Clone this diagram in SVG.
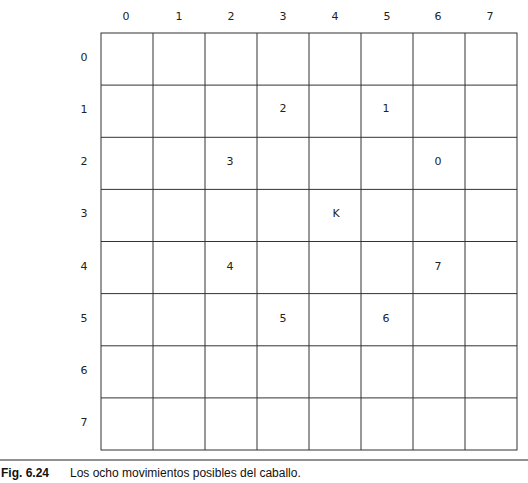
<svg xmlns="http://www.w3.org/2000/svg" width="528" height="483" viewBox="0 0 528 483">
<style>
.g{stroke:#333;stroke-width:1;fill:none}
.t{font-family:"DejaVu Sans","Liberation Sans",sans-serif;font-size:11px;fill:#222;text-anchor:middle;dominant-baseline:central}
.c{font-family:"Liberation Sans","DejaVu Sans",sans-serif;font-size:12px;fill:#111}
</style>
<rect width="528" height="483" fill="#fff"/>
<g id="grid" class="g">
<rect x="101" y="33" width="416" height="417"/>
<path d="M153 33V450M205 33V450M257 33V450M309 33V450M361 33V450M413 33V450M465 33V450"/>
<path d="M101 85.1H517M101 137.3H517M101 189.4H517M101 241.5H517M101 293.6H517M101 345.8H517M101 397.9H517"/>
</g>
<g id="col-labels">
<text class="t" x="126" y="16">0</text>
<text class="t" x="179" y="16">1</text>
<text class="t" x="231" y="16">2</text>
<text class="t" x="283" y="16">3</text>
<text class="t" x="335" y="16">4</text>
<text class="t" x="387" y="16">5</text>
<text class="t" x="438" y="16">6</text>
<text class="t" x="490" y="16">7</text>
</g>
<g id="row-labels">
<text class="t" x="84" y="57">0</text>
<text class="t" x="84" y="109">1</text>
<text class="t" x="84" y="161">2</text>
<text class="t" x="84" y="213">3</text>
<text class="t" x="84" y="266">4</text>
<text class="t" x="84" y="318">5</text>
<text class="t" x="84" y="370">6</text>
<text class="t" x="84" y="422">7</text>
</g>
<g id="moves">
<text class="t" x="283" y="108">2</text>
<text class="t" x="386" y="108">1</text>
<text class="t" x="230" y="161">3</text>
<text class="t" x="438" y="161">0</text>
<text class="t" x="336" y="213">K</text>
<text class="t" x="230" y="266">4</text>
<text class="t" x="438" y="266">7</text>
<text class="t" x="283" y="318">5</text>
<text class="t" x="386" y="318">6</text>
</g>
<line x1="0" y1="460" x2="528" y2="460" stroke="#222" stroke-width="1"/>
<g id="caption">
<text class="c" x="1" y="477" font-weight="bold" font-size="13">Fig. 6.24</text>
<text class="c" x="70" y="477">Los ocho movimientos posibles del caballo.</text>
</g>
</svg>
